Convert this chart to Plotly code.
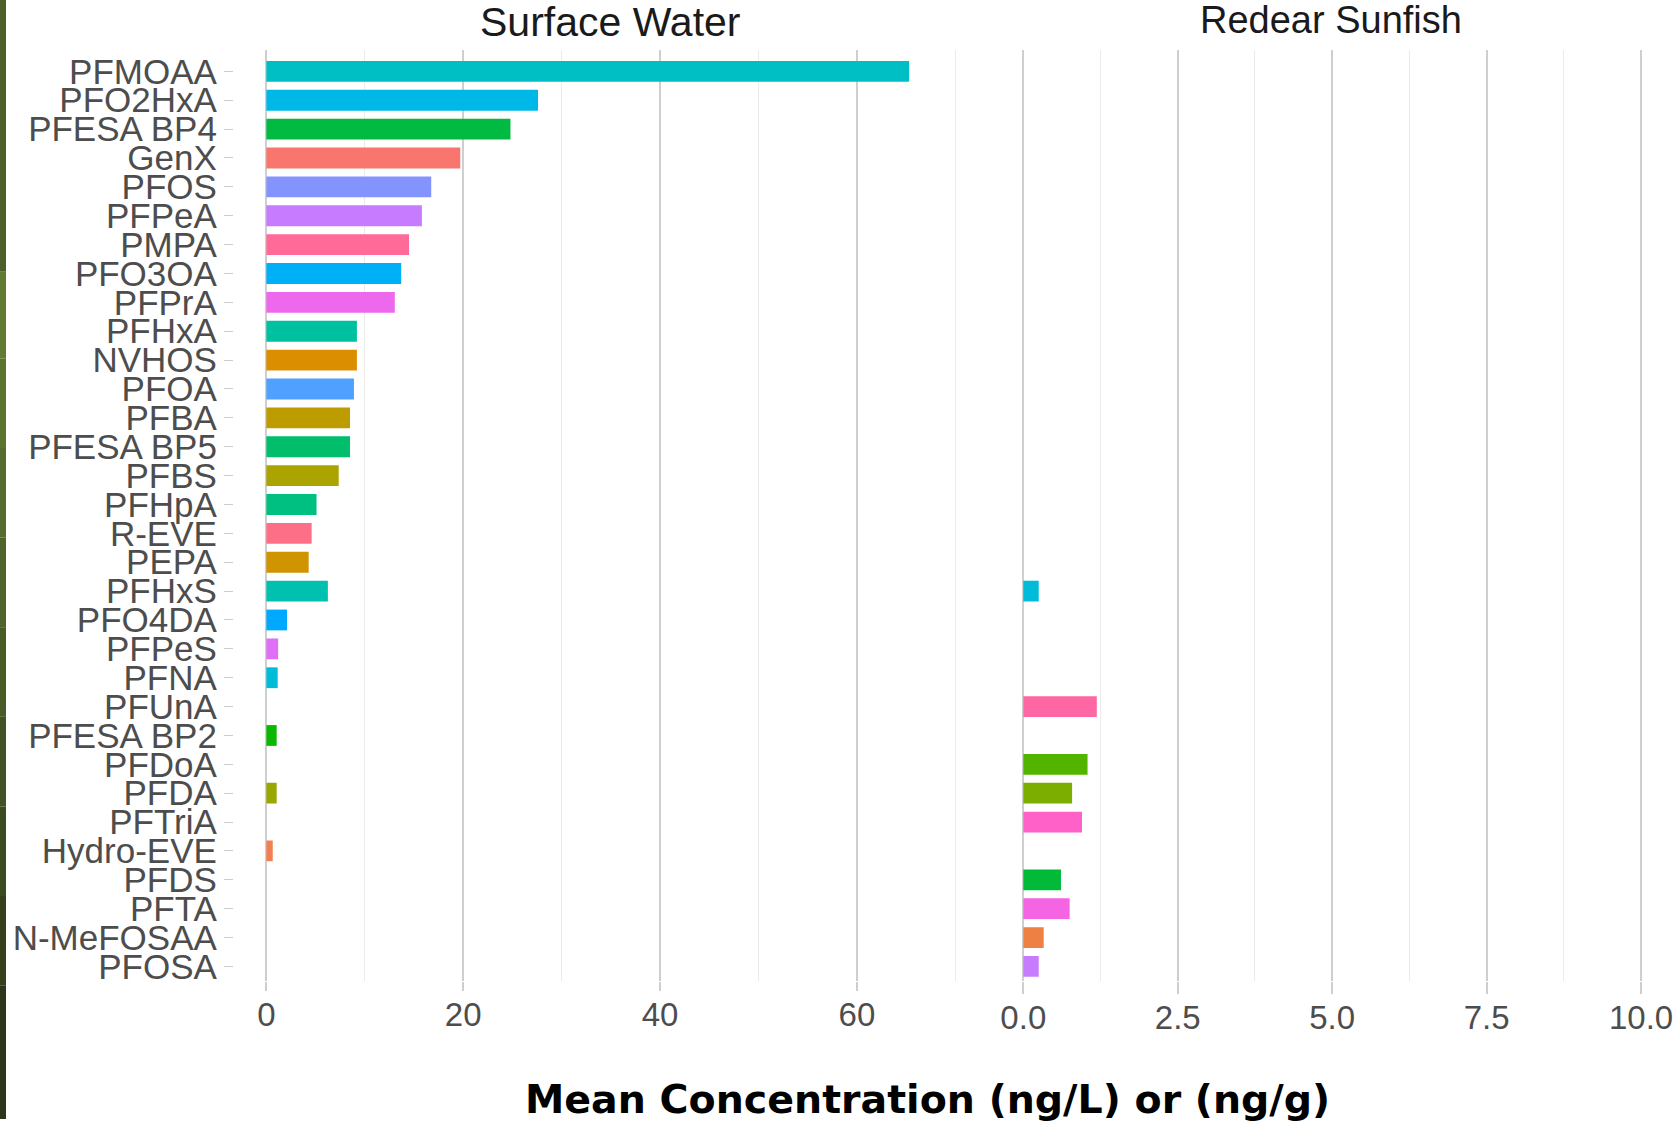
import plotly.graph_objects as go

W, H = 1678, 1124

compounds = [
    "PFMOAA", "PFO2HxA", "PFESA BP4", "GenX", "PFOS", "PFPeA", "PMPA", "PFO3OA",
    "PFPrA", "PFHxA", "NVHOS", "PFOA", "PFBA", "PFESA BP5", "PFBS", "PFHpA",
    "R-EVE", "PEPA", "PFHxS", "PFO4DA", "PFPeS", "PFNA", "PFUnA", "PFESA BP2",
    "PFDoA", "PFDA", "PFTriA", "Hydro-EVE", "PFDS", "PFTA", "N-MeFOSAA", "PFOSA",
]

# Mean concentration in surface water (ng/L)
surface_water = [
    65.3, 27.6, 24.8, 19.7, 16.75, 15.8, 14.5, 13.7,
    13.05, 9.2, 9.2, 8.9, 8.5, 8.5, 7.35, 5.1,
    4.6, 4.3, 6.25, 2.1, 1.2, 1.15, None, 1.05,
    None, 1.05, None, 0.65, None, None, None, None,
]

# Mean concentration in redear sunfish tissue (ng/g)
sunfish = [
    None, None, None, None, None, None, None, None,
    None, None, None, None, None, None, None, None,
    None, None, 0.25, None, None, None, 1.19, None,
    1.04, 0.79, 0.95, None, 0.61, 0.75, 0.33, 0.25,
]

sw_colors = [
    "#00BFC4", "#00B8E7", "#00BA42", "#F8766D", "#8494FF", "#C77CFF", "#FF6A98", "#00B0F6",
    "#ED68ED", "#00C19F", "#DB8E00", "#4FA0FF", "#BD9C00", "#00BE6C", "#ABA300", "#00C081",
    "#FD6F87", "#CF9400", "#00C1B0", "#00A9FF", "#E06FF7", "#00BCD8", "#FF67A4", "#0CB702",
    "#53B400", "#99A800", "#FF61C9", "#F27F4F", "#00BA38", "#F564E3", "#EE8043", "#C77CFF",
]

fish_colors = [
    "#00BFC4", "#00B8E7", "#00BA42", "#F8766D", "#8494FF", "#C77CFF", "#FF6A98", "#00B0F6",
    "#ED68ED", "#00C19F", "#DB8E00", "#4FA0FF", "#BD9C00", "#00BE6C", "#ABA300", "#00C081",
    "#FD6F87", "#CF9400", "#00BCD8", "#00A9FF", "#E06FF7", "#00BCD8", "#FF67A4", "#0CB702",
    "#53B400", "#7CAE00", "#FF61C9", "#F27F4F", "#00BA38", "#F564E3", "#EE8043", "#C77CFF",
]

sw_ticks = [0, 20, 40, 60]
fish_ticks = [0.0, 2.5, 5.0, 7.5, 10.0]


def px_x(p):
    return p / W


def px_y(p):
    return 1 - p / H


fig = go.Figure()

fig.add_trace(go.Bar(
    y=compounds, x=surface_water, orientation="h",
    marker=dict(color=sw_colors, line=dict(width=0)),
    width=0.72, xaxis="x", yaxis="y", showlegend=False,
))
fig.add_trace(go.Bar(
    y=compounds, x=sunfish, orientation="h",
    marker=dict(color=fish_colors, line=dict(width=0)),
    width=0.72, xaxis="x2", yaxis="y2", showlegend=False,
))

tick_font = dict(family="Liberation Sans, Arial, sans-serif", size=33, color="#4d4d4d")
major_grid = "#cfcfcf"
minor_grid = "#ebebeb"

y_range = [31.49, -0.748]
y_domain = [px_y(985), px_y(50)]

fig.update_layout(
    width=W, height=H,
    margin=dict(l=0, r=0, t=0, b=0),
    paper_bgcolor="white", plot_bgcolor="white",
    bargap=0.28,
    xaxis=dict(
        domain=[px_x(234), px_x(975)], range=[-3.3, 71.93],
        tickmode="array", tickvals=sw_ticks, ticktext=[str(v) for v in sw_ticks],
        showgrid=True, gridcolor=major_grid, gridwidth=2,
        minor=dict(dtick=10, tick0=0, showgrid=True, gridcolor=minor_grid, gridwidth=1),
        ticks="outside", ticklen=9, tickwidth=2, tickcolor=major_grid,
        ticklabelstandoff=-4,
        tickfont=tick_font, zeroline=False, showline=False, anchor="y",
    ),
    yaxis=dict(
        domain=y_domain, type="category", categoryorder="array", categoryarray=compounds,
        tickmode="array", tickvals=compounds, ticktext=compounds,
        range=y_range, showgrid=False, zeroline=False, showline=False,
        ticks="outside", ticklen=9, tickwidth=1, tickcolor="#cccccc",
        ticklabelstandoff=0,
        tickfont=dict(family="Liberation Sans, Arial, sans-serif", size=35, color="#4d4d4d"),
        anchor="x",
    ),
    xaxis2=dict(
        domain=[px_x(993), px_x(1673)], range=[-0.5, 10.5],
        tickmode="array", tickvals=fish_ticks, ticktext=[f"{v:.1f}" for v in fish_ticks],
        showgrid=True, gridcolor=major_grid, gridwidth=2,
        minor=dict(dtick=1.25, tick0=0, showgrid=True, gridcolor=minor_grid, gridwidth=1),
        ticks="outside", ticklen=12, tickwidth=2, tickcolor=major_grid,
        ticklabelstandoff=-4,
        tickfont=tick_font, zeroline=False, showline=False, anchor="y2",
    ),
    yaxis2=dict(
        domain=y_domain, type="category", categoryorder="array", categoryarray=compounds,
        range=y_range, showgrid=False, zeroline=False, showline=False,
        showticklabels=False, ticks="", anchor="x2",
    ),
)

# Panel titles and shared axis title
fig.add_annotation(
    text="Surface Water", xref="paper", yref="paper", x=px_x(611), y=px_y(22),
    xanchor="center", yanchor="middle", showarrow=False,
    font=dict(family="Liberation Sans, Arial, sans-serif", size=41, color="#1a1a1a"),
)
fig.add_annotation(
    text="Redear Sunfish", xref="paper", yref="paper", x=px_x(1332), y=px_y(20),
    xanchor="center", yanchor="middle", showarrow=False,
    font=dict(family="Liberation Sans, Arial, sans-serif", size=38, color="#1a1a1a"),
)
fig.add_annotation(
    text="<b>Mean Concentration (ng/L) or (ng/g)</b>", xref="paper", yref="paper",
    x=px_x(928), y=px_y(1104), xanchor="center", yanchor="middle", showarrow=False,
    font=dict(family="DejaVu Sans, sans-serif", size=39.5, color="#000000"),
)

# Olive border strip along the left edge
strip = [
    (0, 273, "#4e5e2b"),
    (273, 360, "#627b33"),
    (360, 450, "#5c7330"),
    (450, 540, "#566b2d"),
    (540, 630, "#50632a"),
    (630, 720, "#4a5b27"),
    (720, 810, "#435224"),
    (810, 900, "#3c4a21"),
    (900, 990, "#35411d"),
    (990, 1124, "#2c361a"),
]
for y0, y1, c in strip:
    fig.add_shape(
        type="rect", xref="paper", yref="paper",
        x0=0, x1=px_x(6), y0=px_y(y1), y1=px_y(y0),
        fillcolor=c, line=dict(width=0), layer="above",
    )

fig.write_html("out.html")
